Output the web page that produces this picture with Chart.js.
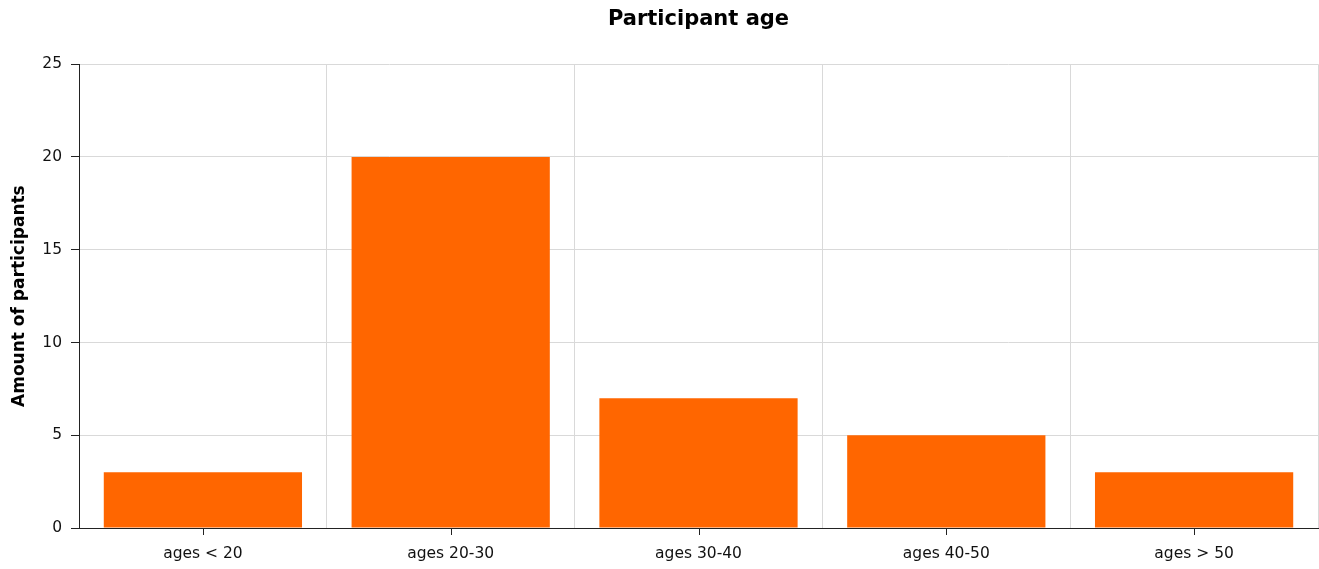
<!DOCTYPE html>
<html>
<head>
<meta charset="utf-8">
<script src="https://cdn.jsdelivr.net/npm/chart.js@4"></script>
<style>
  html, body { margin: 0; padding: 0; background: #fff; }
  .wrap { width: 1319px; height: 569px; }
</style>
</head>
<body>
<div class="wrap"><canvas class="chart" width="1319" height="569"></canvas></div>
<script>
// data
const ageGroups = ['ages < 20', 'ages 20-30', 'ages 30-40', 'ages 40-50', 'ages > 50'];
const participants = [3, 20, 7, 5, 3];
const yTicks = [0, 5, 10, 15, 20, 25];

// small tick marks under the category centres (grid lines sit on the boundaries)
const centerTicks = {
  id: 'centerTicks',
  afterDraw(chart) {
    const x = chart.scales.x;
    const ctx = chart.ctx;
    ctx.save();
    ctx.strokeStyle = '#222';
    ctx.lineWidth = 1;
    x.ticks.forEach((t, i) => {
      const px = Math.round(x.getPixelForTick(i)) + 0.5;
      ctx.beginPath();
      ctx.moveTo(px, x.top);
      ctx.lineTo(px, x.top + 7);
      ctx.stroke();
    });
    ctx.restore();
  }
};

Chart.defaults.font.family = '"DejaVu Sans", Verdana, sans-serif';
Chart.defaults.color = '#111';

const chart = new Chart(document.querySelector('.chart').getContext('2d'), {
  type: 'bar',
  data: {
    labels: ageGroups,
    datasets: [{
      label: 'Participants',
      data: participants,
      backgroundColor: '#ff6600',
      borderWidth: 0,
      barPercentage: 0.8,
      categoryPercentage: 1.0
    }]
  },
  options: {
    responsive: false,
    animation: false,
    layout: { padding: { left: 0, right: 1, top: 0, bottom: 0 } },
    plugins: {
      legend: { display: false },
      tooltip: { enabled: false },
      title: {
        display: true,
        fullSize: false,
        text: 'Participant age',
        color: '#000',
        font: { size: 21, weight: 'bold', lineHeight: 1.2 },
        padding: { top: 7, bottom: 32 }
      }
    },
    scales: {
      x: {
        grid: { offset: true, drawTicks: false, color: '#d9d9d9' },
        border: { color: '#222' },
        ticks: { font: { size: 15.5 }, padding: 17, color: '#111' },
        afterFit(scale) { scale.height = 41; }
      },
      y: {
        min: 0,
        max: 25,
        afterBuildTicks(scale) { scale.ticks = yTicks.map(v => ({ value: v })); },
        grid: { color: '#d9d9d9', tickColor: '#222', tickLength: 8 },
        border: { color: '#222' },
        ticks: { font: { size: 15.5 }, padding: 9, color: '#111' },
        title: {
          display: true,
          text: 'Amount of participants',
          color: '#000',
          font: { size: 17, weight: 'bold', lineHeight: 1.2 },
          padding: { top: 9, bottom: 0 }
        },
        afterFit(scale) { scale.width = 79; }
      }
    }
  },
  plugins: [centerTicks]
});
</script>
</body>
</html>
